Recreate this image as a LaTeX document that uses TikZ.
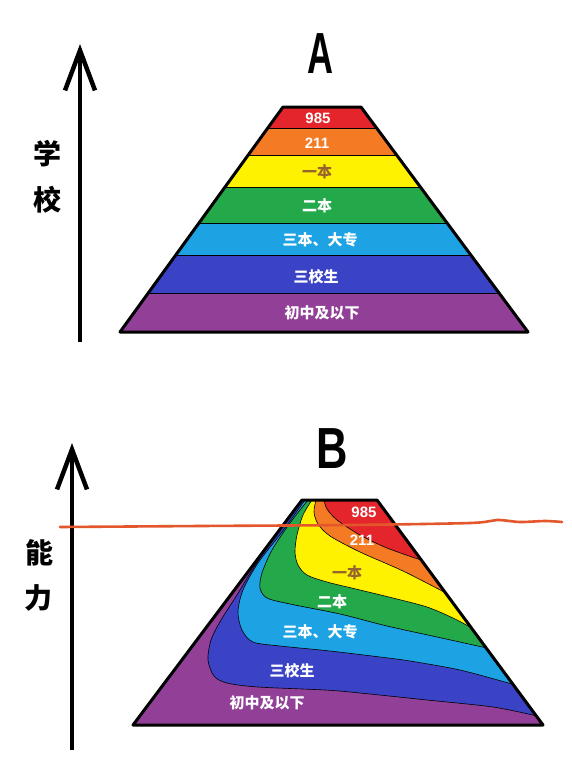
\documentclass[tikz,border=0pt]{standalone}
\usepackage{fontspec}
\newfontfamily\cjk{Noto Sans CJK SC}
\newfontfamily\numfont{Liberation Sans}
\usetikzlibrary{arrows.meta}

\definecolor{cRed}{HTML}{E4252B}
\definecolor{cOrange}{HTML}{F57A24}
\definecolor{cYellow}{HTML}{FFF200}
\definecolor{cGreen}{HTML}{23A84A}
\definecolor{cSky}{HTML}{1DA2E3}
\definecolor{cBlue}{HTML}{3A43C5}
\definecolor{cPurple}{HTML}{923F98}
\definecolor{cBrown}{HTML}{96652E}
\definecolor{cLine}{HTML}{E4572C}

\tikzset{
  band/.style={font=\cjk\bfseries\fontsize{15}{15}\selectfont, text=white, inner sep=0pt},
  num/.style={font=\numfont\bfseries\fontsize{15}{15}\selectfont, text=white, inner sep=0pt},
  axislabel/.style={font=\cjk\bfseries\fontsize{28}{28}\selectfont, inner sep=0pt},
  ttl/.style={font=\numfont\bfseries\fontsize{58}{58}\selectfont, inner sep=0pt},
  axis/.style={line width=4.5pt, -{Straight Barb[length=40pt,width=30pt]}},
  % B 피라미드 경계 곡선
  curR/.style={insert path={plot[smooth, tension=0.5] coordinates {(324,500) (327,509) (337,520) (360,535) (387,548) (421,560)}}},
  curO/.style={insert path={plot[smooth, tension=0.5] coordinates {(316,500) (314,512) (318,524) (330,536) (360,552) (403,571) (446,593)}}},
  curY/.style={insert path={plot[smooth, tension=0.5] coordinates {(312,500) (303,515) (297,535) (295,552) (298,565) (307,575) (327,582) (360,590) (393,598) (427,607) (453,618) (470,627)}}},
  curC/.style={insert path={plot[smooth, tension=0.5] coordinates {(308,500) (290,523) (272,550) (262,573) (260,588) (267,598) (290,604) (340,614) (387,626) (437,637) (487,648)}}},
  curD/.style={insert path={plot[smooth, tension=0.5] coordinates {(305,500) (282,532) (258,563) (243,590) (238,612) (242,630) (253,642) (280,646) (330,651) (380,657) (410,661) (460,670) (512,684)}}},
  curE/.style={insert path={plot[smooth, tension=0.5] coordinates {(280,530) (264,552) (249,575) (237,595) (221,620) (211,640) (208,660) (214,676) (227,683) (258,687) (325,690) (360,693) (427,700) (493,707) (537,716)}}},
}

\begin{document}
\begin{tikzpicture}[x=1pt, y=-1pt, line width=0.6pt]
  \fill[white] (0,0) rectangle (572,764);
  \useasboundingbox (0,0) rectangle (572,764);

  % 축
  \coordinate (aBot) at (80,342);
  \coordinate (aTop) at (80,44);
  \coordinate (bBot) at (72,750);
  \coordinate (bTop) at (72,443);
  \draw[axis] (aBot) -- (aTop);
  \draw[axis] (bBot) -- (bTop);
  \node[axislabel] (xue) at (47,154) {学};
  \node[axislabel] (xiao) at (47,200) {校};
  \node[axislabel] (neng) at (39,553) {能};
  \node[axislabel] (li) at (38,598) {力};

  % 제목
  \node[ttl] (ttlA) at (320,54) {\scalebox{0.62}[1]{A}};
  \node[ttl] (ttlB) at (332,449) {\scalebox{0.75}[1]{B}};

  % A 피라미드
  \coordinate (atl) at (283,107);
  \coordinate (atr) at (361,107);
  \coordinate (abr) at (528,332);
  \coordinate (abl) at (120,332);
  \begin{scope}
    \clip (atl) -- (atr) -- (abr) -- (abl) -- cycle;
    \foreach \ya/\yb/\col in {107/128/cRed, 128/155/cOrange, 155/187/cYellow, 187/223/cGreen, 223/255/cSky, 255/293/cBlue, 293/332/cPurple}
      \fill[\col] (100,\ya) rectangle (560,\yb);
    \foreach \yy in {128,155,187,223,255,293}
      \draw (100,\yy) -- (560,\yy);
  \end{scope}
  \draw[line width=3pt, line join=round] (atl) -- (atr) -- (abr) -- (abl) -- cycle;
  \node[num] (a985) at (318,118) {985};
  \node[num] (a211) at (317,143) {211};
  \node[band, text=cBrown] (a1) at (317,172) {一本};
  \node[band] (a2) at (317,206) {二本};
  \node[band] (a3) at (320,240) {三本、大专};
  \node[band] (a4) at (316,277) {三校生};
  \node[band] (a5) at (322,313) {初中及以下};

  % B 피라미드
  \coordinate (btl) at (302,500);
  \coordinate (btr) at (377,500);
  \coordinate (bbr) at (543,725);
  \coordinate (bbl) at (133,725);
  \begin{scope}
    \clip (btl) -- (btr) -- (bbr) -- (bbl) -- cycle;
    \fill[cPurple] (btl) -- (btr) -- (bbr) -- (bbl) -- cycle;
    \fill[cBlue, curE] -- (btr) -- (btl) -- cycle;
    \fill[cSky, curD] -- (btr) -- cycle;
    \fill[cGreen, curC] -- (btr) -- cycle;
    \fill[cYellow, curY] -- (btr) -- cycle;
    \fill[cOrange, curO] -- (btr) -- cycle;
    \fill[cRed, curR] -- (btr) -- cycle;
    \foreach \c in {curR,curO,curY,curC,curD,curE}
      \draw[\c];
  \end{scope}
  \draw[line width=3pt, line join=round] (btl) -- (btr) -- (bbr) -- (bbl) -- cycle;
  \node[num] (b985) at (364,512) {985};
  \node[num] (b211) at (362,540) {211};
  \node[band, text=cBrown] (b1) at (347,573) {一本};
  \node[band] (b2) at (332,602) {二本};
  \node[band] (b3) at (320,632) {三本、大专};
  \node[band] (b4) at (292,671) {三校生};
  \node[band] (b5) at (267,703) {初中及以下};

  % 빨간 선
  \draw[cLine, line width=2.6pt, line cap=round] plot[smooth] coordinates {(60,527) (200,526) (350,525) (470,523) (497,520) (520,522) (545,521) (562,522)};
\end{tikzpicture}
\end{document}
